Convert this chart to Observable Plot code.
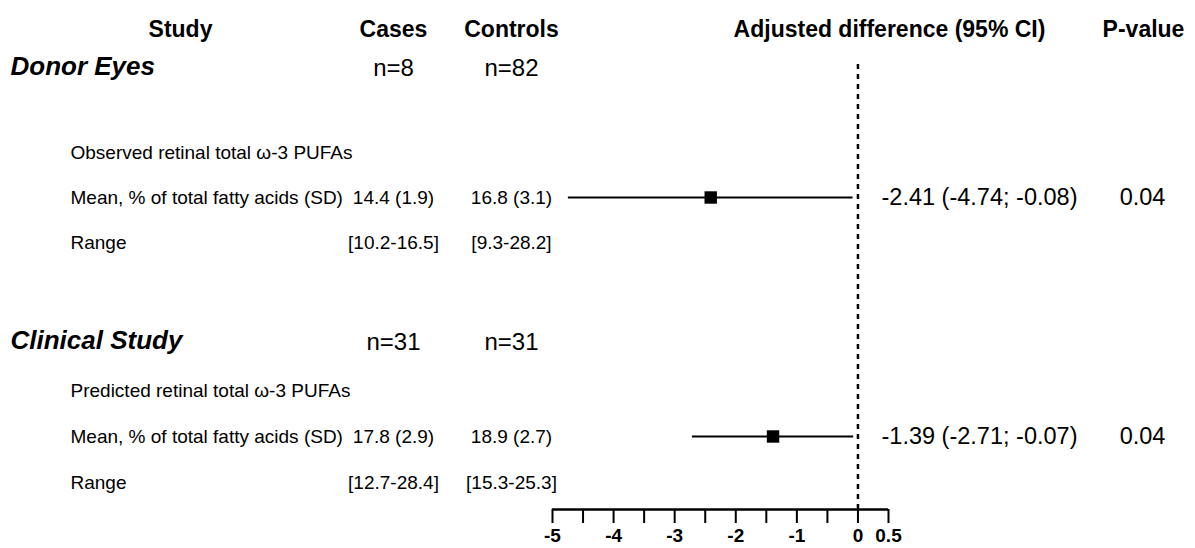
<!DOCTYPE html>
<html>
<head>
<meta charset="utf-8">
<script src="https://cdn.jsdelivr.net/npm/d3@7"></script>
<script src="https://cdn.jsdelivr.net/npm/@observablehq/plot@0.6"></script>
<style>
  html, body { margin: 0; padding: 0; background: #fff; }
  #chart svg { display: block; }
</style>
</head>
<body>
<div id="chart"></div>
<script>
// ---------- data ----------
const headers = ["Study", "Cases", "Controls", "Adjusted difference (95% CI)", "P-value"];
const sections = ["Donor Eyes", "Clinical Study"];
const nCases = [8, 31];
const nControls = [82, 31];
const measures = ["Observed retinal total \u03C9-3 PUFAs", "Predicted retinal total \u03C9-3 PUFAs"];
const meanLabel = "Mean, % of total fatty acids (SD)";
const rangeLabel = "Range";
const casesMean = [14.4, 17.8];
const casesSD = [1.9, 2.9];
const controlsMean = [16.8, 18.9];
const controlsSD = [3.1, 2.7];
const casesMin = [10.2, 12.7];
const casesMax = [16.5, 28.4];
const controlsMin = [9.3, 15.3];
const controlsMax = [28.2, 25.3];
const estimate = [-2.41, -1.39];
const ciLow = [-4.74, -2.71];
const ciHigh = [-0.08, -0.07];
const pValues = [0.04, 0.04];
const xTicks = [-5, -4.5, -4, -3.5, -3, -2.5, -2, -1.5, -1, -0.5, 0, 0.5];
const xTickLabels = [-5, -4, -3, -2, -1, 0, 0.5];

// ---------- layout ----------
const W = 1195, H = 548;
const FONT = "'Liberation Sans', Arial, Helvetica, sans-serif";
const colX = {section: 10, label: 70, study: 180, cases: 393, controls: 511, diffHead: 889, pHead: 1143, diff: 979, p: 1142};
const headerCols = ["study", "cases", "controls", "diffHead", "pHead"];
const headerY = 29;
const rowY = {title: [66, 340], measure: [152, 390], mean: [197, 436], range: [242, 482]};
const axisY = 509, zeroTop = 64;
const xRange = [552, 888];

const f1 = v => v.toFixed(1);
const f2 = v => v.toFixed(2);

const sectionRows = sections.map((s, i) => ({y: rowY.title[i], t: s}));
const nCaseRows = nCases.map((n, i) => ({y: rowY.title[i] + 2, t: `n=${n}`}));
const nCtrlRows = nControls.map((n, i) => ({y: rowY.title[i] + 2, t: `n=${n}`}));
const labelRows = sections.flatMap((s, i) => [
  {y: rowY.measure[i], t: measures[i]},
  {y: rowY.mean[i], t: meanLabel},
  {y: rowY.range[i], t: rangeLabel}
]);
const casesRows = sections.flatMap((s, i) => [
  {y: rowY.mean[i], t: `${f1(casesMean[i])} (${f1(casesSD[i])})`},
  {y: rowY.range[i], t: `[${f1(casesMin[i])}-${f1(casesMax[i])}]`}
]);
const ctrlRows = sections.flatMap((s, i) => [
  {y: rowY.mean[i], t: `${f1(controlsMean[i])} (${f1(controlsSD[i])})`},
  {y: rowY.range[i], t: `[${f1(controlsMin[i])}-${f1(controlsMax[i])}]`}
]);
const forest = estimate.map((e, i) => ({y: rowY.mean[i], est: e, lo: ciLow[i], hi: ciHigh[i],
  diffText: `${f2(e)} (${f2(ciLow[i])}; ${f2(ciHigh[i])})`, pText: f2(pValues[i])}));

const col = (data, key, opts) => Plot.text(data, {
  y: "y", text: "t", frameAnchor: "left", dx: colX[key], fill: "#000", fontFamily: FONT, ...opts
});

const marks = [
  // headers
  ...headers.map((h, i) => col([{y: headerY, t: h}], headerCols[i], {fontSize: 23, fontWeight: "bold", textAnchor: "middle"})),
  // sections
  col(sectionRows, "section", {fontSize: 26, fontWeight: "bold", fontStyle: "italic", textAnchor: "start"}),
  col(nCaseRows, "cases", {fontSize: 24, textAnchor: "middle"}),
  col(nCtrlRows, "controls", {fontSize: 24, textAnchor: "middle"}),
  col(labelRows, "label", {fontSize: 19, textAnchor: "start"}),
  col(casesRows, "cases", {fontSize: 19, textAnchor: "middle"}),
  col(ctrlRows, "controls", {fontSize: 19, textAnchor: "middle"}),
  col(forest.map(d => ({y: d.y, t: d.diffText})), "diff", {fontSize: 23.5, textAnchor: "middle"}),
  col(forest.map(d => ({y: d.y, t: d.pText})), "p", {fontSize: 23.5, textAnchor: "middle"}),
  // forest
  Plot.ruleX([0], {y1: zeroTop, y2: axisY, stroke: "#000", strokeWidth: 2.5, strokeDasharray: "5,5"}),
  Plot.ruleY(forest, {y: "y", x1: "lo", x2: "hi", stroke: "#000", strokeWidth: 2}),
  Plot.dot(forest, {x: "est", y: "y", symbol: "square", r: 7, fill: "#000", stroke: "none"}),
  // axis
  Plot.ruleY([axisY], {x1: xTicks[0], x2: xTicks[xTicks.length - 1], stroke: "#000", strokeWidth: 2.5}),
  Plot.axisX({
    anchor: "bottom", ticks: xTicks, tickSize: 14,
    tickFormat: () => "", stroke: "#000", strokeWidth: 2, label: null
  }),
  Plot.text(xTickLabels, {
    x: d => d, text: d => String(d), frameAnchor: "bottom", dy: 32,
    fontSize: 19, fontWeight: "bold", fontFamily: FONT, fill: "#000", textAnchor: "middle"
  })
];

const chart = Plot.plot({
  width: W, height: H,
  marginTop: 0, marginLeft: 0, marginRight: 0, marginBottom: H - axisY,
  style: {fontFamily: FONT, color: "#000", background: "#fff", overflow: "visible"},
  x: {domain: [xTicks[0], xTicks[xTicks.length - 1]], range: xRange, label: null},
  y: {type: "identity", axis: null},
  marks
});
document.getElementById("chart").appendChild(chart);
</script>
</body>
</html>
